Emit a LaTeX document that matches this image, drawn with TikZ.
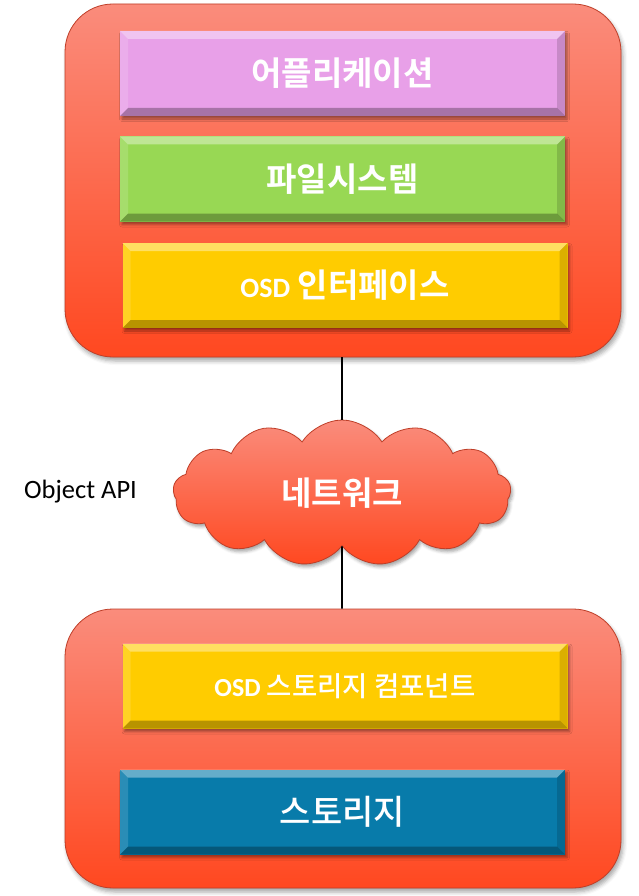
\documentclass[tikz,border=0pt]{standalone}
\usepackage{fontspec}
\setmainfont{Noto Sans CJK KR}[UprightFont={* Medium}, BoldFont={* Bold}]
\newfontfamily\lat{Carlito}
\usetikzlibrary{shapes.symbols,shadows.blur}

\definecolor{salmonTop}{RGB}{250,140,124}
\definecolor{salmonBot}{RGB}{255,72,32}
\definecolor{rimRed}{RGB}{190,62,40}
\definecolor{lilac}{RGB}{232,160,232}
\definecolor{leaf}{RGB}{152,216,84}
\definecolor{amber}{RGB}{255,204,0}
\definecolor{sea}{RGB}{8,123,170}

\newcommand\osd[1]{{\lat\bfseries\fontsize{#1}{#1}\selectfont OSD}}

\tikzset{
  panel/.style={rounded corners=48pt, top color=salmonTop, bottom color=salmonBot,
    draw=rimRed, line width=0.8pt, inner sep=0pt,
    blur shadow={shadow xshift=2pt, shadow yshift=-4pt, shadow blur radius=4pt, shadow opacity=35}},
  bevelbox/.style={fill=#1, inner sep=0pt, minimum width=445pt, minimum height=85pt,
    text=white, font=\bfseries\fontsize{33}{36}\selectfont,
    blur shadow={shadow xshift=2pt, shadow yshift=-3pt, shadow blur radius=2.5pt, shadow opacity=40},
    path picture={
      \coordinate (nw) at (path picture bounding box.north west);
      \coordinate (ne) at (path picture bounding box.north east);
      \coordinate (sw) at (path picture bounding box.south west);
      \coordinate (se) at (path picture bounding box.south east);
      \fill[white,opacity=.38] (nw) -- (ne) -- ([xshift=-8pt,yshift=-8pt]ne) -- ([xshift=8pt,yshift=-8pt]nw) -- cycle;
      \fill[white,opacity=.14] (nw) -- ([xshift=8pt,yshift=-8pt]nw) -- ([xshift=8pt,yshift=8pt]sw) -- (sw) -- cycle;
      \fill[black,opacity=.14] (ne) -- ([xshift=-8pt,yshift=-8pt]ne) -- ([xshift=-8pt,yshift=8pt]se) -- (se) -- cycle;
      \fill[black,opacity=.28] (sw) -- (se) -- ([xshift=-8pt,yshift=8pt]se) -- ([xshift=8pt,yshift=8pt]sw) -- cycle;
    }},
  link/.style={line width=1.6pt, black},
  netcloud/.style={cloud, cloud puffs=13, cloud puff arc=115, aspect=2.3,
    minimum width=338pt, minimum height=146pt, inner sep=0pt,
    top color=salmonTop, bottom color=salmonBot, draw=rimRed, line width=0.8pt,
    text=white, font=\bfseries\fontsize{33}{36}\selectfont,
    blur shadow={shadow xshift=2pt, shadow yshift=-3pt, shadow blur radius=3pt, shadow opacity=35}},
  caption/.style={font=\lat\fontsize{26.5}{28}\selectfont, text=black, inner sep=0pt}
}

\begin{document}
\begin{tikzpicture}[x=1pt,y=-1pt]
  \useasboundingbox (0,0) rectangle (638,896);

  % host side
  \node[panel, minimum width=556pt, minimum height=353pt] (host) at (343,180.5) {};
  % storage side
  \node[panel, minimum width=556pt, minimum height=279pt] (store) at (343,748.5) {};

  % connectors through the network
  \node[netcloud] (net) at (342,493) {네트워크};
  \draw[link] (host.south -| net.center) -- (net);
  \draw[link] (net) -- (store.north -| net.center);

  \node[caption] (api) at (80.5,492) {Object API};

  % host layers
  \node[bevelbox=lilac] (app) at (342.5,73.5) {어플리케이션};
  \node[bevelbox=leaf] (fs) at (342.5,179) {파일시스템};
  \node[bevelbox=amber] (osdif) at (345,285.5) {\osd{28} 인터페이스};

  % storage layers
  \node[bevelbox=amber, font=\fontsize{27.5}{30}\selectfont] (osdsc) at (345,686) {\osd{26} 스토리지 컴포넌트};
  \node[bevelbox=sea, font=\fontsize{34}{36}\selectfont] (disk) at (342.5,812) {스토리지};
\end{tikzpicture}
\end{document}
